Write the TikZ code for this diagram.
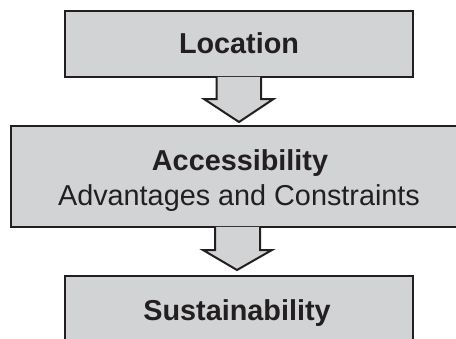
\documentclass[tikz,border=0pt]{standalone}
\usepackage{fontspec}
\setmainfont{Liberation Sans}
\usetikzlibrary{calc}
\definecolor{boxgray}{RGB}{209,211,212}
\definecolor{ink}{RGB}{35,31,32}
\tikzset{
  box/.style={draw=ink, fill=boxgray, line width=2pt, rectangle, inner sep=0pt},
  flowarrow/.style={draw=ink, fill=boxgray, line width=2pt, line join=miter},
  txt/.style={text=ink, inner sep=0pt, anchor=base, font=\fontsize{28.8}{34}\selectfont}
}
\begin{document}
\begin{tikzpicture}[x=1pt,y=-1pt]
\useasboundingbox (0,0) rectangle (456,338);
% boxes
\node[box, minimum width=348pt, minimum height=66pt] (loc) at (239,44) {};
\node[box, minimum width=462pt, minimum height=101pt] (acc) at (242,176.5) {};
\node[box, minimum width=348pt, minimum height=80pt] (sus) at (239,316) {};
% arrow 1
\coordinate (t1) at ($(loc.south)+(0,44)$);
\path[flowarrow] ($(loc.south)+(-22.5,-1.2)$) -- ++(0,22.2) -- ++(-12.5,0) -- (t1)
  -- ($(loc.south)+(34.5,21)$) -- ++(-12.5,0) -- ($(loc.south)+(22,-1.2)$);
% arrow 2
\coordinate (t2) at ($(sus.north)+(-2,-5)$);
\path[flowarrow] ($(acc.south)+(-27,-1.2)$) -- ++(0,23.2) -- ++(-12,0) -- (t2)
  -- ($(acc.south)+(30,22)$) -- ++(-12,0) -- ($(acc.south)+(18,-1.2)$);
% texts
\node[txt] (tloc) at (239,53) {\bfseries Location};
\node[txt] (tacc) at (240,170) {\bfseries Accessibility};
\node[txt] (tadv) at (239,205) {Advantages and Constraints};
\node[txt] (tsus) at (237,320) {\bfseries Sustainability};
\end{tikzpicture}
\end{document}
